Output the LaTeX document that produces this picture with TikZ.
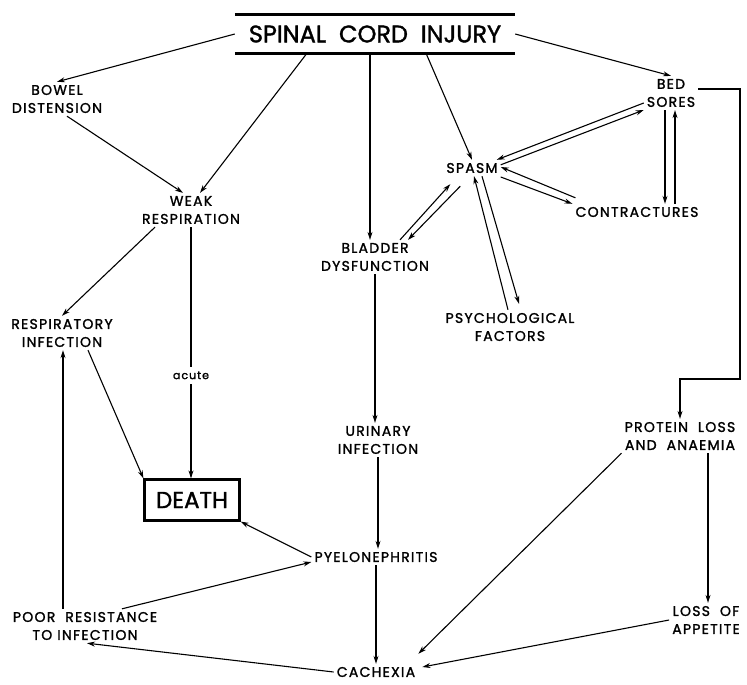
\documentclass[tikz,border=0pt]{standalone}
\usepackage{fontspec}
\setmainfont{Poppins}[FakeBold=1.5,LetterSpace=9]
\newfontfamily\headfont{Poppins}[FakeBold=1.5]
\usetikzlibrary{arrows.meta}

\begin{document}
\begin{tikzpicture}[
  x=1pt,y=-1pt,
  font=\fontsize{14}{18}\selectfont,
  lbl/.style={align=center,inner sep=3pt},
  head/.style={minimum width=280pt,minimum height=38pt,inner sep=0pt,
               font=\headfont\fontsize{24}{26}\selectfont},
  fatal/.style={draw,line width=2.2pt,minimum width=95pt,minimum height=41pt,
                inner sep=0pt,font=\headfont\fontsize{23}{24}\selectfont},
  note/.style={fill=white,inner sep=5pt,font=\fontsize{11}{13}\selectfont},
  rule/.style={line width=3pt},
  ar/.style={-{Stealth[length=8pt,width=5pt]},line width=1.1pt}]

\useasboundingbox (0,0) rectangle (747,685);

% ---- top: the injury and what it sets off ---------------------------------
\node[head] (sci) at (375,34) {SPINAL\ \ CORD\ \ INJURY};
\draw[rule] (sci.north west) -- (sci.north east);
\draw[rule] (sci.south west) -- (sci.south east);

\node[lbl] (bowel)   at (57,99)   {BOWEL\\DISTENSION};
\node[lbl] (weak)    at (191,210) {WEAK\\RESPIRATION};
\node[lbl] (bed)     at (671,93)  {BED\\SORES};
\node[lbl] (spasm)   at (472,168) {SPASM};
\node[lbl] (contr)   at (637,212) {CONTRACTURES};
\node[lbl] (bladder) at (375,257) {BLADDER\\DYSFUNCTION};
\node[lbl] (psych)   at (510,327) {PSYCHOLOGICAL\\FACTORS};

% ---- middle and bottom -----------------------------------------------------
\node[lbl] (resp)    at (62,333)  {RESPIRATORY\\INFECTION};
\node[lbl] (urin)    at (378,440) {URINARY\\INFECTION};
\node[lbl] (protein) at (680,436) {PROTEIN\ \ LOSS\\AND\ \ ANAEMIA};
\node[fatal] (death) at (192,500) {DEATH};
\node[lbl] (pyelo)   at (376,557) {PYELONEPHRITIS};
\node[lbl] (poor)    at (85,626)  {POOR\ \ RESISTANCE\\TO INFECTION};
\node[lbl] (loss)    at (706,620) {LOSS\ \ OF\\APPETITE};
\node[lbl] (cach)    at (376,672) {CACHEXIA};
\coordinate (turn) at (740,379);

% ---- single arrows ---------------------------------------------------------
\draw[ar] (sci.west) -- (bowel.north);
\draw[ar] ([xshift=-68pt]sci.south) -- ([xshift=9pt]weak.north);
\draw[ar] ([xshift=10pt]bowel.south) -- ([xshift=-8pt]weak.north);
\draw[ar] ([xshift=-5pt]sci.south) -- ([xshift=-5pt]bladder.north);
\draw[ar] ([xshift=51pt]sci.south) -- (spasm.north);
\draw[ar] (sci.east) -- (bed.north);
\draw[ar] ([yshift=4pt]bed.east) -| (turn) -| (protein.north);
\draw[ar] ([xshift=28pt]protein.south) -- ([xshift=28pt]protein.south |- loss.north);
\draw[ar] (protein.south west) -- ([yshift=10pt]cach.north east);
\draw[ar] (loss.west) -- ([xshift=4pt,yshift=5pt]cach.east);
\draw[ar] (bladder.south) -- (bladder.south |- urin.north);
\draw[ar] (urin.south) -- (urin.south |- pyelo.north);
\draw[ar] (pyelo.south) -- (cach.north);
\draw[ar] (pyelo.west) -- (death.south east);
\draw[ar] ([xshift=37pt]poor.north) -- ([yshift=-5pt]pyelo.west);
\draw[ar] (cach.west) -- ([xshift=2pt]poor.south);
\draw[ar] ([xshift=-22pt]poor.north) -- ([xshift=-22pt]poor.north |- resp.south);
\draw[ar] ([xshift=26pt]resp.south) -- (death.north west);
\draw[ar] ([xshift=-36pt]weak.south) -- (resp.north);
\draw[ar] (weak.south) -- node[note,pos=0.59] {acute} (weak.south |- death.north);

% ---- paired arrows round SPASM ---------------------------------------------
\draw[ar] ([yshift=-10pt]bed.west) -- ([xshift=-4pt]spasm.north east);
\draw[ar] ([yshift=-5pt]spasm.north east) -- ([yshift=-17pt]bed.west);
\draw[ar] ([xshift=-6pt]bed.south) -- ([xshift=-6pt]bed.south |- contr.north);
\draw[ar] ([xshift=4pt]bed.south |- contr.north) -- ([xshift=4pt]bed.south);
\draw[ar] ([xshift=3pt,yshift=6pt]contr.north west) -- ([yshift=1pt]spasm.east);
\draw[ar] ([yshift=-9pt]spasm.east) -- (contr.north west);
\draw[ar] ([xshift=25pt]bladder.north) -- ([xshift=7pt,yshift=-8pt]spasm.south west);
\draw[ar] ([xshift=17pt,yshift=-10pt]spasm.south west) -- ([xshift=33pt]bladder.north);
\draw[ar] ([xshift=-2pt]psych.north) -- ([xshift=2pt]spasm.south);
\draw[ar] ([xshift=10pt]spasm.south) -- ([xshift=9pt,yshift=6pt]psych.north);
\end{tikzpicture}
\end{document}
